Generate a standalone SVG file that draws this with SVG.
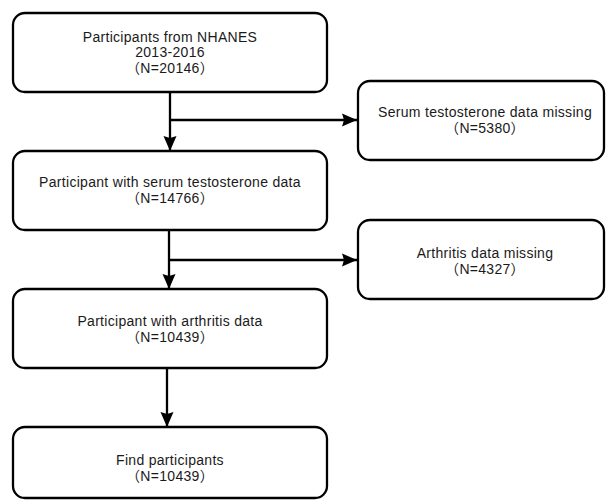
<svg xmlns="http://www.w3.org/2000/svg" width="606" height="502" viewBox="0 0 606 502">
<defs>
<style>
.box{fill:#fff;stroke:#000;stroke-width:2.3}
.lbl{font-family:"Liberation Sans","Noto Sans CJK SC",Arial,sans-serif;font-size:14px;letter-spacing:0.3px;fill:#1a1a1a;text-anchor:middle}
.con{fill:none;stroke:#000;stroke-width:2.3}
</style>
<marker id="ah" markerUnits="userSpaceOnUse" markerWidth="15" markerHeight="14" viewBox="0 0 15 14" refX="15" refY="7" orient="auto">
<path d="M0,0.5 L15,7 L0,13.5 L2,7 z" fill="#000"/>
</marker>
</defs>
<rect width="606" height="502" fill="#fff"/>
<g id="connectors">
<path class="con" d="M170,92 L170,151" marker-end="url(#ah)"/>
<path class="con" d="M170,120 L357,120" marker-end="url(#ah)"/>
<path class="con" d="M169,230 L169,289" marker-end="url(#ah)"/>
<path class="con" d="M169,260 L357,260" marker-end="url(#ah)"/>
<path class="con" d="M167,368 L167,427" marker-end="url(#ah)"/>
</g>
<g id="n1">
<rect class="box" x="13" y="13" width="314" height="79" rx="12"/>
<text class="lbl" x="170" y="42">Participants from NHANES</text>
<text class="lbl" x="170" y="57">2013-2016</text>
<text class="lbl" x="170" y="73">（N=20146）</text>
</g>
<g id="n2">
<rect class="box" x="13" y="151" width="314" height="79" rx="12"/>
<text class="lbl" x="170" y="187">Participant with serum testosterone data</text>
<text class="lbl" x="170" y="203">（N=14766）</text>
</g>
<g id="n3">
<rect class="box" x="13" y="289" width="314" height="79" rx="12"/>
<text class="lbl" x="170" y="326">Participant with arthritis data</text>
<text class="lbl" x="170" y="342">（N=10439）</text>
</g>
<g id="n4">
<rect class="box" x="13" y="427" width="314" height="71" rx="12"/>
<text class="lbl" x="170" y="465">Find participants</text>
<text class="lbl" x="170" y="481">（N=10439）</text>
</g>
<g id="r1">
<rect class="box" x="358" y="81" width="246" height="79" rx="12"/>
<text class="lbl" x="485" y="117">Serum testosterone data missing</text>
<text class="lbl" x="485" y="133">（N=5380）</text>
</g>
<g id="r2">
<rect class="box" x="358" y="220" width="246" height="79" rx="12"/>
<text class="lbl" x="485" y="258">Arthritis data missing</text>
<text class="lbl" x="485" y="274">（N=4327）</text>
</g>
</svg>
